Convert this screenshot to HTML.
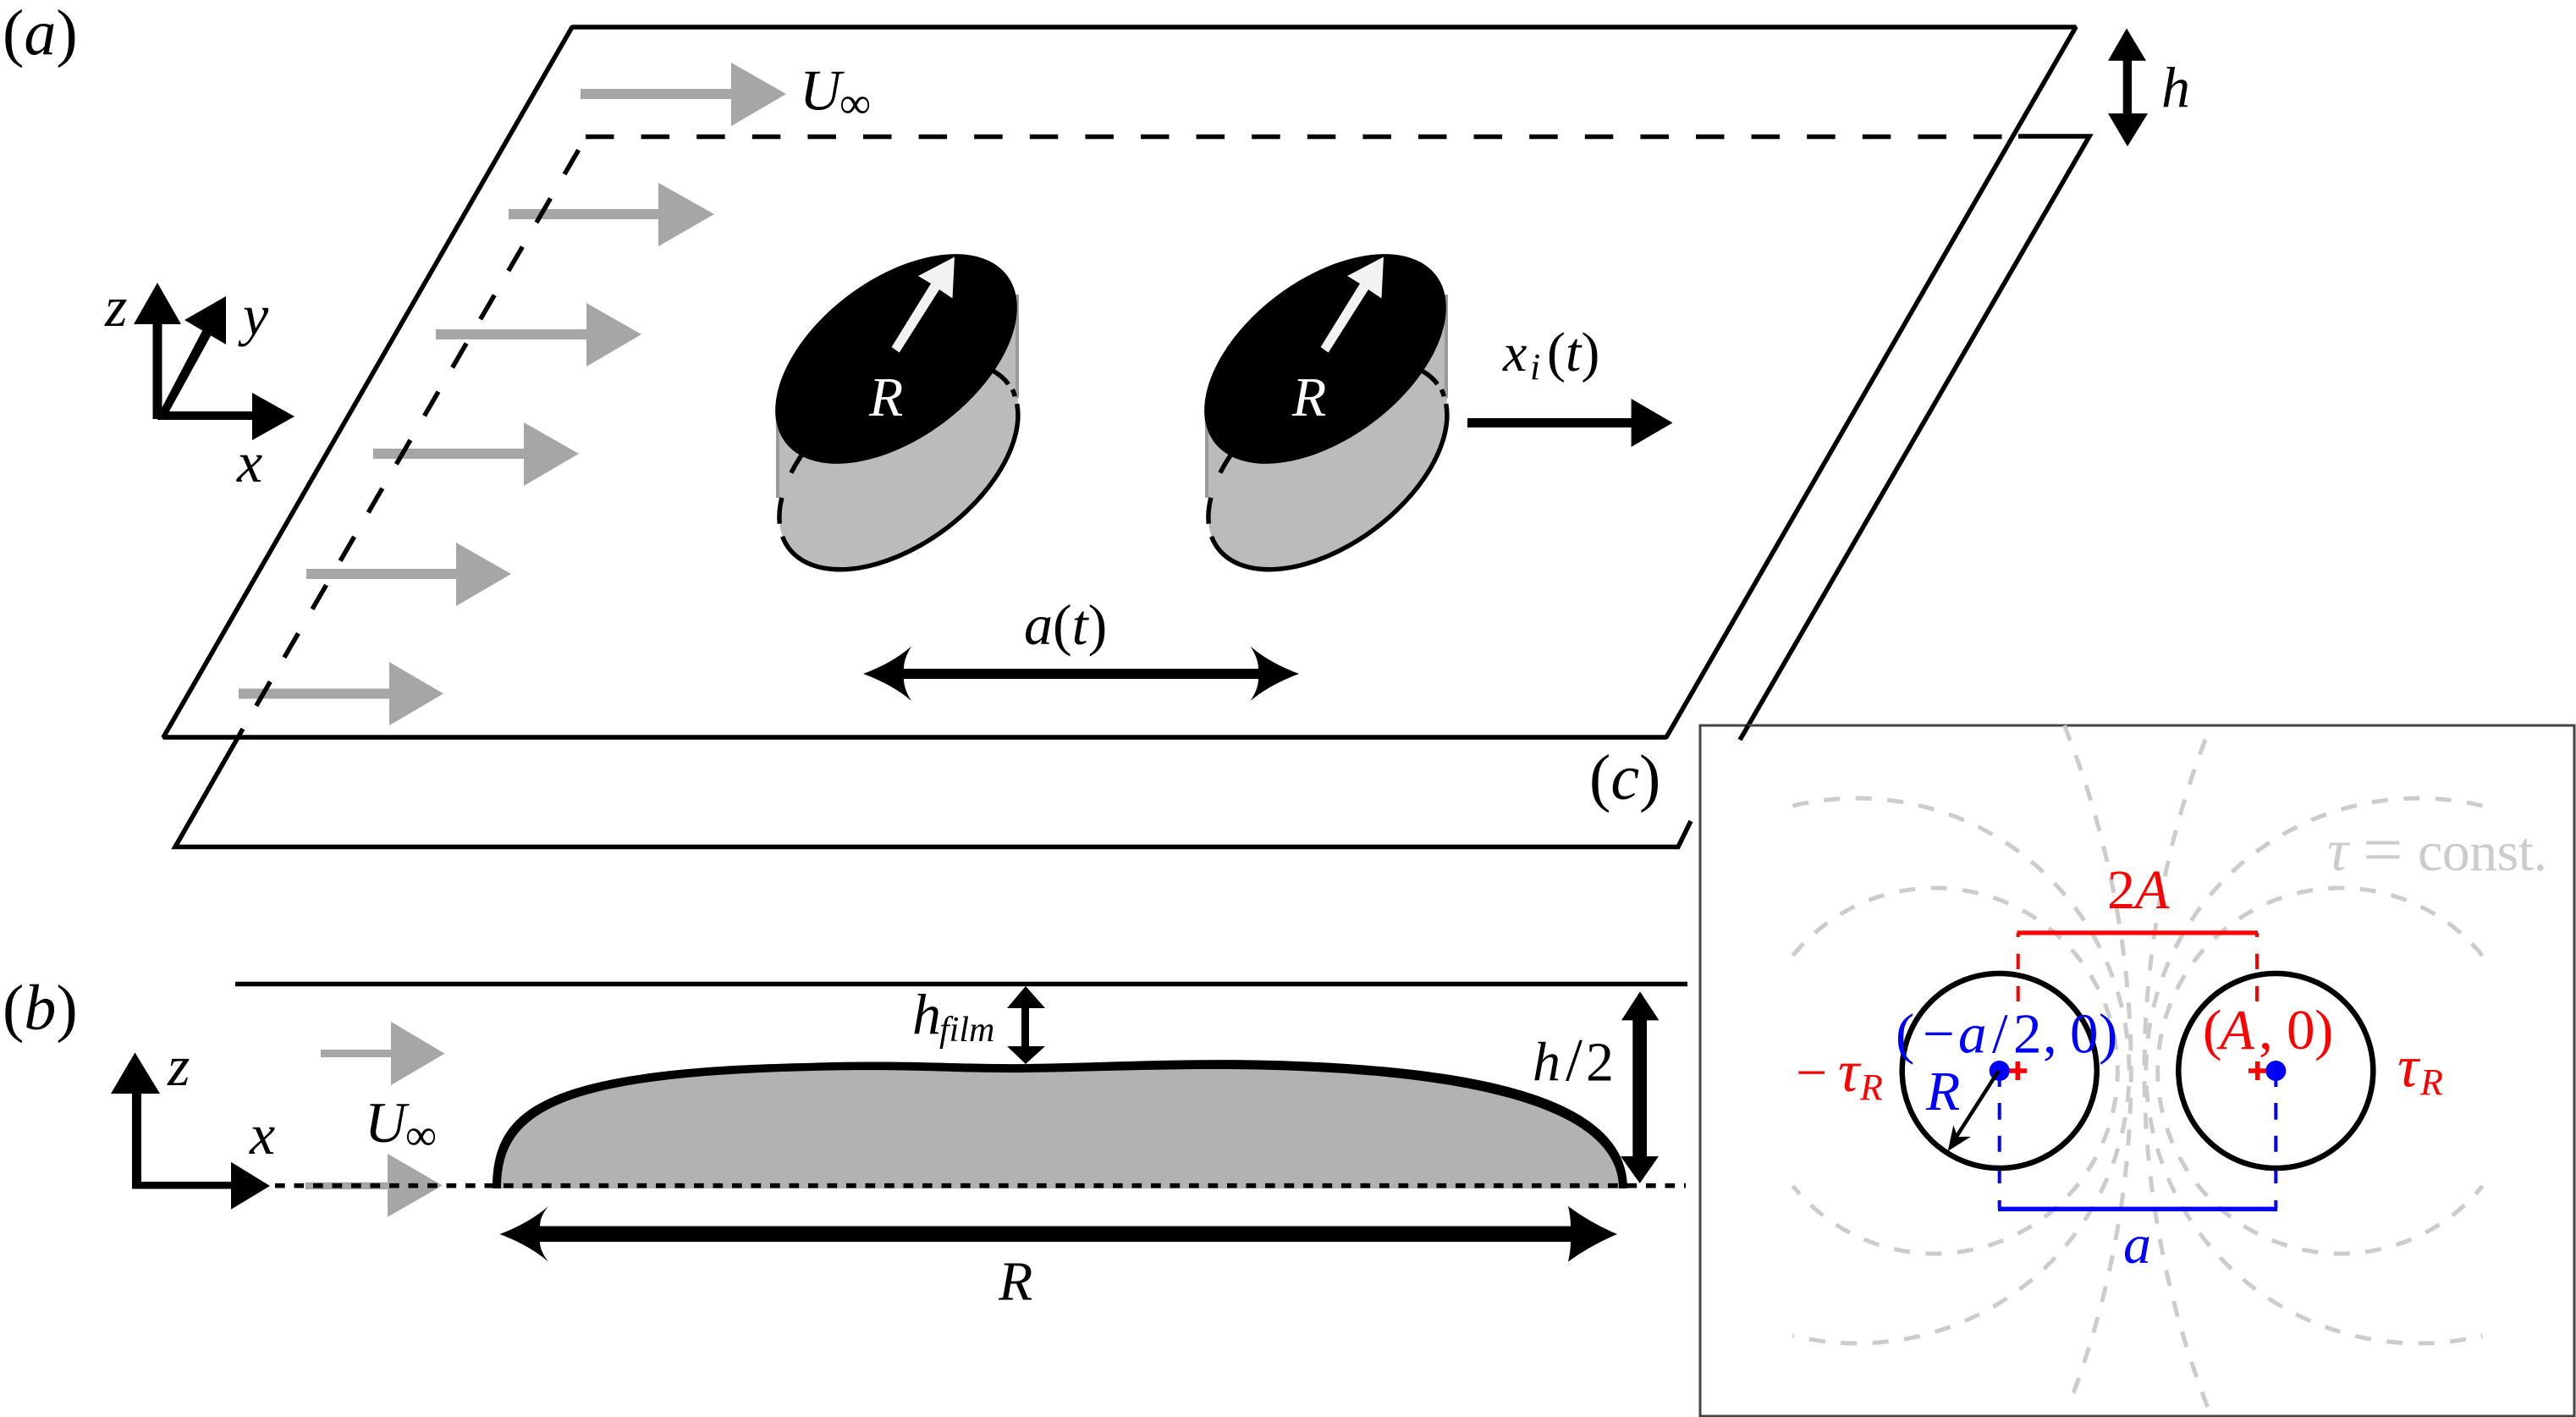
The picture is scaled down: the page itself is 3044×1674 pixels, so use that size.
<!DOCTYPE html>
<html><head><meta charset="utf-8"><style>
html,body{margin:0;padding:0;background:#fff}
svg{display:block}
text{font-family:"Liberation Serif","DejaVu Serif",serif;font-size:66px;fill:#000}
.i{font-style:italic}
</style></head><body>
<svg width="3044" height="1674" viewBox="0 0 3044 1674" xmlns="http://www.w3.org/2000/svg">
<rect width="3044" height="1674" fill="#fff"/>

<!-- gray flow arrows panel a -->
<g fill="#a6a6a6">
<polygon points="686,105 864,105 864,74 929,111 864,149 864,117 686,117"/>
<polygon points="601,247 778,247 778,216 844,253 778,291 778,259 601,259"/>
<polygon points="515,389 693,389 693,358 758,395 693,433 693,401 515,401"/>
<polygon points="441,530 619,530 619,499 684,536 619,574 619,542 441,542"/>
<polygon points="362,672 539,672 539,641 604,678 539,716 539,684 362,684"/>
<polygon points="282,813.500 460,813.500 460,782 524,819.500 460,857 460,825.500 282,825.500"/>
</g>

<!-- planes -->
<g fill="none" stroke="#000" stroke-width="5.500">
<path d="M676 32H2453L1969 871H193L676 32Z" stroke-linejoin="bevel"/>
<path d="M2385 161H2469L2056 874"/>
<path d="M1998 970L1983 1000.500H207L287 861"/>
<path d="M692 161.500H2366" stroke-dasharray="33.500 32.100"/>
<path d="M683.600 177.300L287 861" stroke-dasharray="33 33"/>
</g>

<!-- axes a -->
<g fill="#000">
<rect x="180.500" y="380" width="11" height="115"/>
<polygon points="158,383 186,334 214,383"/>
<polygon points="188,488 240,389 250,395 195,495"/>
<polygon points="267,350 218,378 267,407"/>
<rect x="186" y="486" width="114" height="10"/>
<polygon points="298,464 348,492 298,520"/>
</g>

<!-- cylinders -->
<g id="cyl">
<polygon points="916,485 1202,365 1203,489 921,611" fill="#bbb"/>
<path d="M919 485V588M1202 348V470" stroke="#999" stroke-width="4" fill="none"/>
<g transform="translate(1062 551) rotate(-36.85) scale(.988)" fill="none" stroke="#000" stroke-width="5.500">
<ellipse cx="0" cy="0" rx="164" ry="94" fill="#bbb" stroke="none"/>
<path d="M158 25A164 94 0 0 1 -161.500 -16.300"/>
<path d="M-155.100 -30.600A164 94 0 0 1 -134.300 -53.900"/>
<path d="M-107.600 -71A164 94 0 0 1 -69.300 -85.200"/>
<path d="M148.600 -39.700A164 94 0 0 1 164 0"/>
<path d="M164 8A164 94 0 0 1 161.500 16.300"/>
</g>
<ellipse cx="1059" cy="424" rx="164" ry="94" transform="rotate(-36.85 1059 424)" fill="#000"/>
<polygon points="1053.600,410 1062.700,416.500 1110,342 1125.500,352.500 1128,303.500 1085,326 1100,335" fill="#f2f2f2"/>
</g>
<use href="#cyl" transform="translate(507 0)"/>
<text class="i" x="1027" y="491" style="fill:#fff">R</text>
<text class="i" x="1527" y="491" style="fill:#fff">R</text>

<!-- x_i arrow -->
<rect x="1734" y="494" width="195" height="11"/>
<polygon points="1927.600,471 1976.500,499.500 1927.600,528"/>
<!-- a(t) arrow -->
<path d="M1020 796Q1055 783 1077 763.500Q1068 778 1068 790H1487Q1487 778 1477.500 763.500Q1500 783 1535 796Q1500 809 1477.500 828Q1487 814 1487 802H1068Q1068 814 1077 828Q1055 809 1020 796Z"/>
<!-- h arrow -->
<polygon points="2513,33.500 2536,71.700 2519,71.700 2519,134 2538,134 2514,173 2491,134 2508.700,134 2508.700,71.700 2491,71.700"/>

<!-- panel b -->
<path d="M278 1162.500H1994" stroke="#000" stroke-width="5.500"/>
<polygon points="379,1240 462,1240 462,1207 525.500,1244.600 462,1282 462,1249 379,1249" fill="#a6a6a6"/>
<polygon points="361,1396.700 458,1396.700 458,1363 522.700,1400.500 458,1437.700 458,1405 361,1405" fill="#a6a6a6"/>

<path fill="#000" d="M582 1404C582 1310 640 1262 960 1255.700C1080 1252 1130 1258 1212 1257C1300 1256 1400 1250 1505 1253C1760 1260 1923 1300 1923 1404Z"/>
<path fill="#b2b2b2" d="M592 1404C592 1318 650 1272 960 1265C1080 1262 1130 1268 1212 1267C1300 1266 1400 1261 1505 1264C1750 1271 1913 1312 1913 1404Z"/>
<path d="M325 1400.700H1992" stroke="#000" stroke-width="5.600" stroke-dasharray="11.700 10.800"/>

<g fill="#000">
<rect x="156" y="1290" width="11" height="114.500"/>
<polygon points="131,1292 159.500,1243.500 189,1292"/>
<rect x="156" y="1396" width="120" height="8.500"/>
<polygon points="273,1372.700 319,1401 273,1428.700"/>
<polygon points="1212,1165 1235,1191 1216,1191 1216,1236 1235,1236 1212,1257 1190,1236 1207,1236 1207,1191 1190,1191"/>
<polygon points="1938,1171.400 1960.500,1205.400 1946,1205.400 1946,1366 1960,1366 1937.700,1398 1915,1366 1929.300,1366 1929.300,1205.400 1916,1205.400"/>
<path d="M590.500 1458Q625 1445 648 1425Q638 1437 638 1448.500H1856Q1856 1437 1853 1425Q1880 1445 1911 1458Q1880 1471 1853 1490.500Q1856 1478 1856 1467H638Q638 1478 648 1490.500Q625 1471 590.500 1458Z"/>
</g>

<!-- panel c -->
<rect x="2009" y="857" width="1033" height="816" fill="#fff" stroke="#444" stroke-width="3"/>
<path d="M2056 874L2066 857" stroke="#000" stroke-width="5.500" fill="none"/>
<g fill="none" stroke="#ccc" stroke-width="5" stroke-dasharray="19 18.500">
<path d="M2118.500 952A322 322 0 1 1 2118.500 1578"/>
<path d="M2933.500 952A322 322 0 1 0 2933.500 1578"/>
<path d="M2118.500 1129A216 216 0 1 1 2118.500 1401"/>
<path d="M2933.500 1129A216 216 0 1 0 2933.500 1401"/>
<path d="M2439.400 857A1096 1096 0 0 1 2446 1656.600"/>
<path d="M2606 873.600A1096 1096 0 0 0 2613 1673"/>
</g>
<text x="2857" y="1028" style="fill:#ccc;font-size:66px" textLength="153" lengthAdjust="spacing">const.</text>
<text class="i" x="2750" y="1028" style="fill:#ccc;font-size:70px">τ</text>
<text x="2792" y="1032" style="fill:#ccc;font-size:84px">=</text>

<!-- red construction -->
<g fill="none" stroke="#f00">
<path d="M2383.500 1102H2668" stroke-width="5.300"/>
<path d="M2384.700 1102V1107M2667 1102V1107" stroke-width="4"/>
<path d="M2384.700 1126.700V1145M2384.700 1165V1183M2667 1126.700V1145M2667 1165V1183" stroke-width="4"/>
<path d="M2373 1265H2395M2384.300 1254V1276M2657 1265H2679M2667.700 1254V1276" stroke-width="5.500"/>
</g>
<g fill="none" stroke="#00f">
<path d="M2361 1428.300H2691" stroke-width="5.300"/>
<path d="M2362.700 1276.700V1284M2362.700 1303V1322.700M2362.700 1341.700V1360.700M2362.700 1380V1398M2362.700 1418V1428M2689.300 1276.700V1284M2689.300 1303V1322.700M2689.300 1341.700V1360.700M2689.300 1380V1398M2689.300 1418V1428" stroke-width="4"/>
</g>
<circle cx="2362.700" cy="1265" r="12" fill="#00f"/>
<circle cx="2689.300" cy="1265" r="12" fill="#00f"/>
<circle cx="2362.700" cy="1265" r="115" fill="none" stroke="#000" stroke-width="6.500"/>
<circle cx="2689.300" cy="1265" r="115" fill="none" stroke="#000" stroke-width="6.500"/>
<path d="M2361.700 1265L2306 1352" stroke="#000" stroke-width="4.500"/>
<polygon points="2301.700,1360 2308.300,1329.300 2313.300,1343 2329,1342.700" fill="#000"/>

<!-- labels panel a -->
<text x="3" y="64" style="font-size:76px">(<tspan class="i">a</tspan>)</text>
<text class="i" x="945" y="129.500" style="font-size:68px">U</text>
<text x="992" y="139" style="font-size:52px">∞</text>
<text class="i" x="124" y="385" style="font-size:68px">z</text>
<text class="i" x="287" y="395" style="font-size:68px">y</text>
<text class="i" x="280" y="569" style="font-size:68px">x</text>
<text class="i" x="1776" y="438" style="font-size:64px">x</text>
<text class="i" x="1808" y="448" style="font-size:44px">i</text>
<text x="1828" y="438" style="font-size:66px">(<tspan class="i">t</tspan>)</text>
<text x="1210" y="761" style="font-size:68px"><tspan class="i">a</tspan>(<tspan class="i">t</tspan>)</text>
<text class="i" x="2554" y="126" style="font-size:68px">h</text>
<text x="1878" y="944" style="font-size:76px">(<tspan class="i">c</tspan>)</text>

<!-- labels panel b -->
<text x="3" y="1216" style="font-size:76px">(<tspan class="i">b</tspan>)</text>
<text class="i" x="198" y="1282" style="font-size:68px">z</text>
<text class="i" x="295" y="1363" style="font-size:68px">x</text>
<text class="i" x="431" y="1349" style="font-size:68px">U</text>
<text x="479" y="1358" style="font-size:52px">∞</text>
<text class="i" x="1078" y="1221" style="font-size:68px">h</text>
<text class="i" x="1110" y="1230" style="font-size:42px">film</text>
<text class="i" x="1811" y="1276.700">h</text>
<text x="1850" y="1276.700" style="font-size:72px">/</text>
<text x="1874" y="1276.700">2</text>
<text class="i" x="1180" y="1535.500">R</text>

<!-- labels panel c -->
<text class="i" x="2490" y="1073" style="fill:#f00"><tspan style="font-style:normal">2</tspan>A</text>
<text y="1243.500" style="fill:#00f;font-size:67px"><tspan x="2240">(</tspan><tspan x="2272">−</tspan><tspan class="i" x="2314">a</tspan><tspan x="2354">/</tspan><tspan x="2379">2</tspan><tspan x="2414">,</tspan><tspan x="2446">0</tspan><tspan x="2480">)</tspan></text>
<text y="1239" style="fill:#f00;font-size:67px"><tspan x="2603">(</tspan><tspan class="i" x="2623">A</tspan><tspan x="2669">,</tspan><tspan x="2702">0</tspan><tspan x="2735">)</tspan></text>
<text x="2122" y="1289" style="fill:#f00">−</text>
<text class="i" x="2172" y="1289" style="fill:#f00;font-size:70px">τ</text>
<text class="i" x="2198" y="1299" style="fill:#f00;font-size:44px">R</text>
<text class="i" x="2833" y="1283.500" style="fill:#f00;font-size:70px">τ</text>
<text class="i" x="2860" y="1293" style="fill:#f00;font-size:44px">R</text>
<text class="i" x="2276" y="1311" style="fill:#00f">R</text>
<text class="i" x="2509" y="1492" style="fill:#00f">a</text>
</svg>
</body></html>
